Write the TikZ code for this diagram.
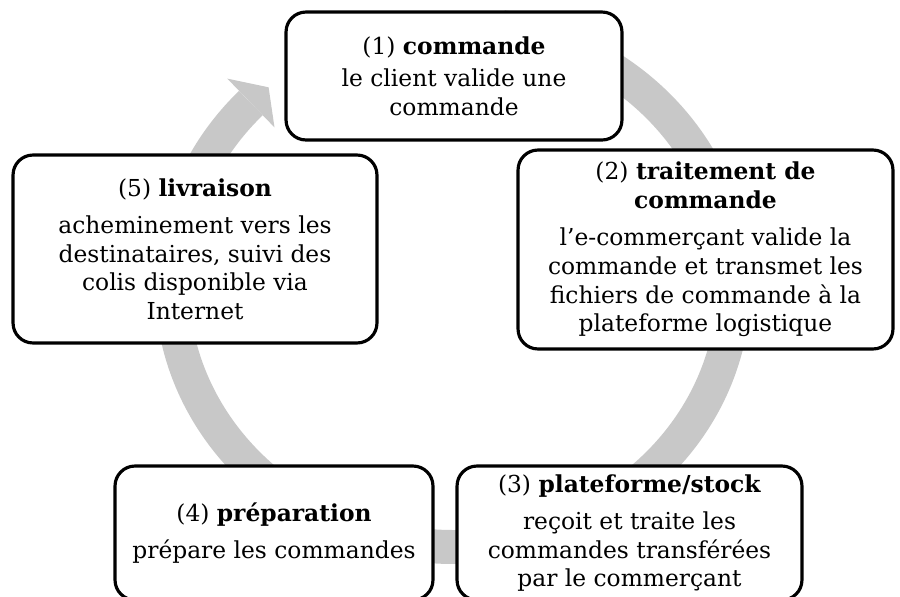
\documentclass[tikz,border=0pt]{standalone}
\usepackage{fontspec}
\setmainfont{DejaVu Serif}
\definecolor{anneaugris}{RGB}{200,200,200}

\begin{document}
\begin{tikzpicture}[x=0.02cm,y=-0.02cm,
   etape/.style={draw=black,fill=white,line width=1.8pt,rounded corners=0.4cm,
                 align=center,inner sep=0pt,font=\fontsize{13.3}{16.3}\selectfont},
   anneau/.style={draw=anneaugris,line width=0.68cm}]
   \useasboundingbox (0,0) rectangle (900,596);
   \draw[anneau] (453,285) ++(80:5.62cm and 5.24cm)
      arc[start angle=80,end angle=-224,x radius=5.62cm,y radius=5.24cm];
   \fill[anneaugris] (268.6,87.3) -- (274.5,127.4) -- (227.3,78.6) -- cycle;
   \node[etape,minimum width=6.72cm,minimum height=2.56cm] (cmd) at (454,76)
      {(1) \textbf{commande}\\[2pt] le client valide une\\ commande};
   \node[etape,minimum width=7.5cm,minimum height=3.98cm] (trt) at (705.5,249.5)
      {(2) \textbf{traitement de}\\ \textbf{commande}\\[5pt] l'e-commerçant valide la\\
       commande et transmet les\\ fichiers de commande à la\\ plateforme logistique};
   \node[etape,minimum width=6.9cm,minimum height=2.68cm] (stock) at (629.5,533)
      {(3) \textbf{plateforme/stock}\\[5pt] reçoit et traite les\\ commandes transférées\\
       par le commerçant};
   \node[etape,minimum width=6.36cm,minimum height=2.68cm] (prep) at (274,533)
      {(4) \textbf{préparation}\\[5pt] prépare les commandes};
   \node[etape,minimum width=7.28cm,minimum height=3.76cm] (livr) at (195,249)
      {(5) \textbf{livraison}\\[5pt] acheminement vers les\\ destinataires, suivi des\\
       colis disponible via\\ Internet};
\end{tikzpicture}
\end{document}
